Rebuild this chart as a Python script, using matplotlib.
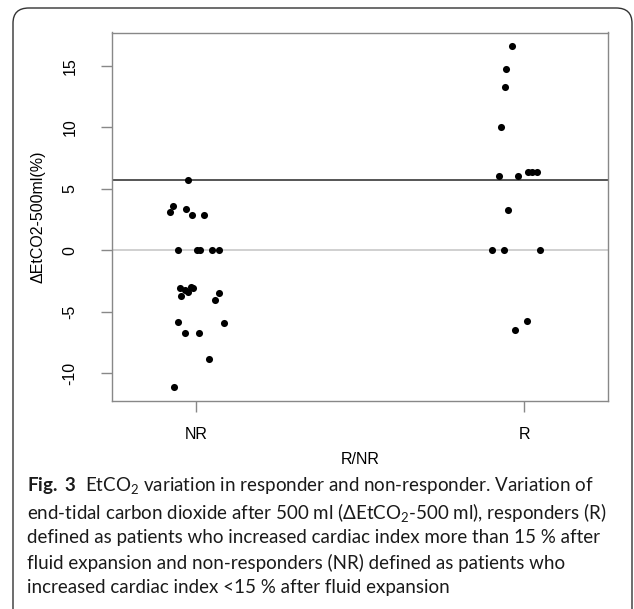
import matplotlib
matplotlib.use("Agg")
import matplotlib.pyplot as plt
from matplotlib.patches import FancyBboxPatch

plt.rcParams['font.family'] = ['Liberation Sans', 'DejaVu Sans']
plt.rcParams['mathtext.fontset'] = 'custom'
plt.rcParams['mathtext.rm'] = 'Lato'
plt.rcParams['mathtext.it'] = 'Lato:italic'
plt.rcParams['mathtext.bf'] = 'Lato:bold'

# data (values in %, jitter = horizontal offset from group)
groups = ["NR", "R"]
nr_values = [5.7, 3.6, 3.1, 3.35, 2.9, 2.9, 0, 0, 0, 0, 0,
             -3.1, -3.2, -3.0, -3.05, -3.4, -3.75, -3.5, -4.0,
             -5.85, -5.9, -6.7, -6.7, -8.85, -11.1]
nr_jitter = [-0.024, -0.070, -0.079, -0.031, -0.013, 0.024, -0.055, 0.004, 0.011, 0.049, 0.069,
             -0.049, -0.033, -0.015, -0.010, -0.023, -0.046, 0.069, 0.059,
             -0.056, 0.086, -0.033, 0.010, 0.041, -0.066]
r_values = [16.65, 14.75, 13.3, 10.0, 6.05, 6.05, 6.4, 6.4, 6.4, 3.3, 0, 0, 0, -5.75, -6.5]
r_jitter = [-0.036, -0.056, -0.059, -0.069, -0.076, -0.019, 0.013, 0.025, 0.039, -0.048,
            -0.097, -0.061, 0.049, 0.010, -0.027]
threshold = 5.7
y_ticks = [-10, -5, 0, 5, 10, 15]

fig = plt.figure(figsize=(6.34, 6.09), dpi=100)

# rounded frame around the figure + caption
frame = FancyBboxPatch((13 / 634, -0.05), 619 / 634, 1.05 - 8 / 609,
                       boxstyle="round,pad=0,rounding_size=0.025",
                       transform=fig.transFigure, fill=False,
                       edgecolor="#333333", linewidth=1.0)
fig.patches.append(frame)

ax = fig.add_axes([112 / 634, 1 - 401 / 609, 496 / 634, 368.5 / 609])

ax.axhline(0, color="#c8c8c8", linewidth=1.2, zorder=1)
ax.axhline(threshold, color="#555555", linewidth=1.4, zorder=1)

ax.scatter([1 + j for j in nr_jitter], nr_values, s=26, color="black", zorder=3, linewidths=0)
ax.scatter([2 + j for j in r_jitter], r_values, s=26, color="black", zorder=3, linewidths=0)

ax.set_xlim(0.744, 2.256)
ax.set_ylim(-12.25, 17.72)
ax.set_xticks([1, 2])
ax.set_xticklabels(groups, fontsize=11.5)
ax.set_yticks(y_ticks)
ax.set_yticklabels([str(t) for t in y_ticks], fontsize=11.5, rotation=90, va="center")
ax.tick_params(axis="both", length=8, width=1, color="#888888")
ax.tick_params(axis="x", pad=11)
ax.tick_params(axis="y", pad=17)
for sp in ax.spines.values():
    sp.set_color("#888888")
    sp.set_linewidth(1.0)

ax.set_xlabel("R/NR", fontsize=11.5, labelpad=7)
ax.set_ylabel("\u0394EtCO2-500ml(%)", fontsize=11.5, labelpad=12)

# caption
caption = [
    r"$\mathbf{Fig.\ 3}$  EtCO$_2$ variation in responder and non-responder. Variation of",
    r"end-tidal carbon dioxide after 500 ml ($\Delta$EtCO$_2$-500 ml), responders (R)",
    "defined as patients who increased cardiac index more than 15 % after",
    "fluid expansion and non-responders (NR) defined as patients who",
    "increased cardiac index <15 % after fluid expansion",
]
line_y = [486, 512, 537, 563, 588]
for txt, yy in zip(caption, line_y):
    fig.text(27 / 634, 1 - yy / 609, txt, fontsize=13.5, family=["Lato", "DejaVu Sans"],
             va="center", ha="left", color="#1a1a1a")

fig.savefig("out.png", dpi=100)
